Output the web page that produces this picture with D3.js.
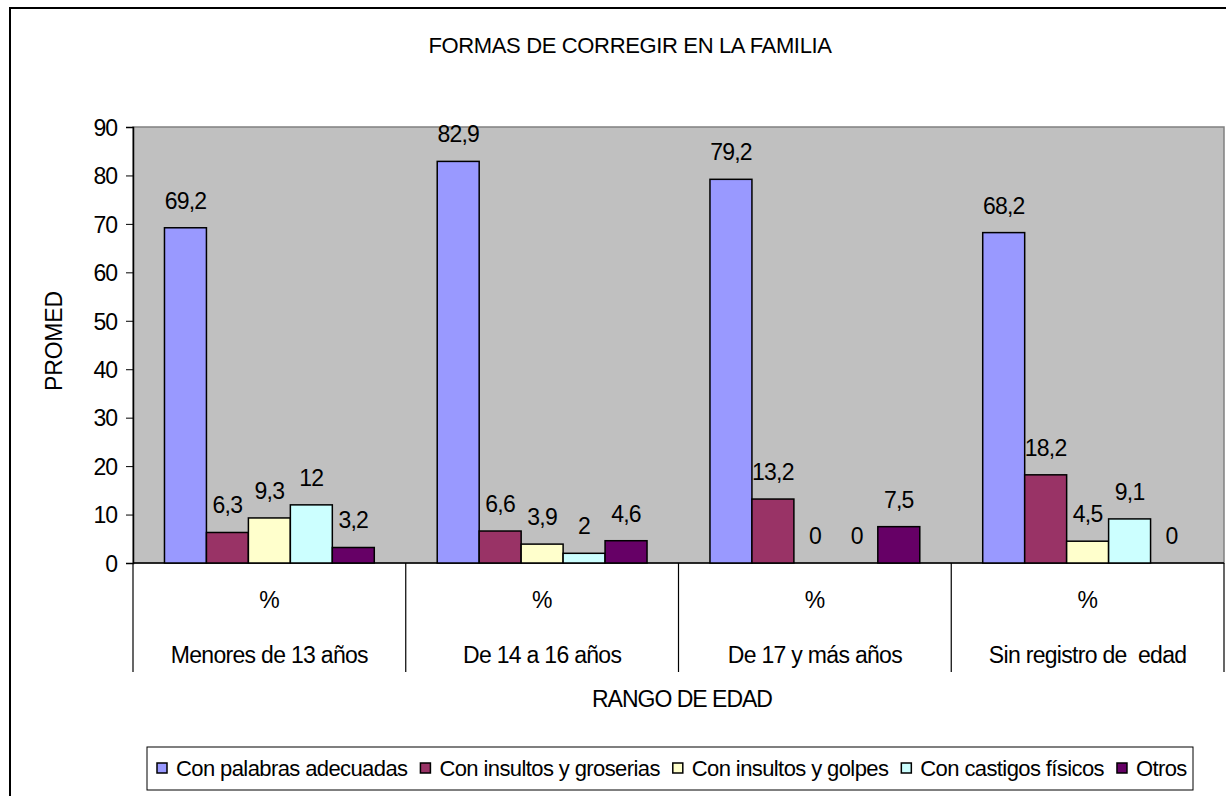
<!DOCTYPE html>
<meta charset="utf-8">
<style>
 body { margin: 0; background: #fff; }
 text {
  font-family: "Liberation Sans", Arial, sans-serif;
  fill: #000;
 }
</style>
<body>
  <div id="chart"></div>
  <script src="https://cdn.jsdelivr.net/npm/d3@7"></script>
  <script>
(function(){

  var categories = ["Menores de 13 años", "De 14 a 16 años", "De 17 y más años", "Sin registro de  edad"];
  var seriesNames = ["Con palabras adecuadas", "Con insultos y groserias", "Con insultos y golpes", "Con castigos físicos", "Otros"];
  var seriesColors = ["#9999FF", "#993366", "#FFFFCC", "#CCFFFF", "#660066"];
  var palabras = [69.2, 82.9, 79.2, 68.2];
  var groserias = [6.3, 6.6, 13.2, 18.2];
  var golpes = [9.3, 3.9, 0, 4.5];
  var castigos = [12, 2, 0, 9.1];
  var otros = [3.2, 4.6, 7.5, 0];
  var yTicks = [0, 10, 20, 30, 40, 50, 60, 70, 80, 90];

  var series = [palabras, groserias, golpes, castigos, otros];

  var width = 1226, height = 796;
  var plot = {left: 133, top: 127, right: 1224, bottom: 564};

  var svg = d3.select("#chart").append("svg")
      .attr("width", width)
      .attr("height", height);

  // outer chart frame (runs off the right and bottom edge)
  svg.append("rect")
      .attr("x", 10).attr("y", 8)
      .attr("width", 1240).attr("height", 820)
      .attr("fill", "none")
      .attr("stroke", "#000")
      .attr("stroke-width", 2);

  svg.append("text")
      .attr("x", 630).attr("y", 53)
      .attr("text-anchor", "middle")
      .style("font-size", "22px")
      .style("letter-spacing", "-0.35px")
      .text("FORMAS DE CORREGIR EN LA FAMILIA");

  var x0 = d3.scaleBand().domain(categories).range([plot.left, plot.right]);
  var y = d3.scaleLinear().domain([0, 90]).range([plot.bottom - 1, plot.top]);

  var barW = x0.bandwidth() / 6.5;

  svg.append("rect")
      .attr("x", plot.left).attr("y", plot.top)
      .attr("width", plot.right - plot.left)
      .attr("height", y(0) - plot.top)
      .attr("fill", "#C0C0C0")
      .attr("stroke", "#808080")
      .attr("stroke-width", 1.5);

  // y axis
  var yAxis = svg.append("g")
      .attr("transform", "translate(" + plot.left + ",0)")
      .call(d3.axisLeft(y).tickValues(yTicks).tickSize(7).tickPadding(9));
  yAxis.select(".domain").attr("stroke", "#000").attr("stroke-width", 1.5);
  yAxis.selectAll(".tick line").attr("stroke", "#000");
  yAxis.selectAll("text")
      .attr("dy", "0.36em")
      .style("font-family", "\"Liberation Sans\", Arial, sans-serif")
      .style("font-size", "23px")
      .style("letter-spacing", "-1px");

  // category dividers below the axis
  var edges = categories.map(function(c){ return x0(c); }).concat([plot.right]);
  svg.selectAll("line.div").data(edges).enter()
      .append("line")
      .attr("x1", function(d){ return d; })
      .attr("x2", function(d){ return d; })
      .attr("y1", y(0)).attr("y2", 672)
      .attr("stroke", "#000").attr("stroke-width", 1.2);

  svg.append("line")
      .attr("x1", plot.left).attr("x2", plot.right)
      .attr("y1", y(0)).attr("y2", y(0))
      .attr("stroke", "#000").attr("stroke-width", 1.5);

  var groups = svg.selectAll("g.cat").data(categories).enter()
      .append("g").attr("class", "cat");

  series.forEach(function(vals, s){
    groups.append("rect")
        .attr("x", function(d, i){ return x0(d) + barW * (0.75 + s); })
        .attr("y", function(d, i){ return y(vals[i]); })
        .attr("width", barW)
        .attr("height", function(d, i){ return y(0) - y(vals[i]); })
        .attr("fill", seriesColors[s])
        .attr("stroke", "#000")
        .attr("stroke-width", 1.5);

    groups.append("text")
        .attr("x", function(d, i){ return x0(d) + barW * (1.25 + s); })
        .attr("y", function(d, i){ return y(vals[i]) - 19; })
        .attr("text-anchor", "middle")
        .style("font-size", "23px")
        .style("letter-spacing", "-0.8px")
        .text(function(d, i){ return String(vals[i]).replace(".", ","); });
  });

  groups.append("text")
      .attr("x", function(d){ return x0(d) + x0.bandwidth() / 2; })
      .attr("y", 608)
      .attr("text-anchor", "middle")
      .style("font-size", "23px")
      .text("%");

  groups.append("text")
      .attr("x", function(d){ return x0(d) + x0.bandwidth() / 2; })
      .attr("y", 663)
      .attr("text-anchor", "middle")
      .style("font-size", "23px")
      .style("letter-spacing", "-0.7px")
      .style("white-space", "pre")
      .text(function(d){ return d; });

  svg.append("text")
      .attr("x", 682).attr("y", 707)
      .attr("text-anchor", "middle")
      .style("font-size", "23px")
      .style("letter-spacing", "-1px")
      .text("RANGO DE EDAD");

  svg.append("text")
      .attr("transform", "translate(62,341) rotate(-90)")
      .attr("text-anchor", "middle")
      .style("font-size", "23px")
      .style("letter-spacing", "-0.2px")
      .text("PROMED");

  // legend
  var legend = svg.append("g");
  legend.append("rect")
      .attr("x", 147).attr("y", 747)
      .attr("width", 1046).attr("height", 43)
      .attr("fill", "#fff")
      .attr("stroke", "#000")
      .attr("stroke-width", 1);

  var lx = 157;
  seriesNames.forEach(function(name, s){
    legend.append("rect")
        .attr("x", lx).attr("y", 763)
        .attr("width", 10).attr("height", 10)
        .attr("fill", seriesColors[s])
        .attr("stroke", "#000")
        .attr("stroke-width", 1.5);
    var t = legend.append("text")
        .attr("x", lx + 19).attr("y", 776)
        .style("font-size", "22px")
        .style("letter-spacing", "-0.6px")
        .text(name);
    lx += 19 + t.node().getComputedTextLength() + 13;
  });

})();
  </script>
</body>
